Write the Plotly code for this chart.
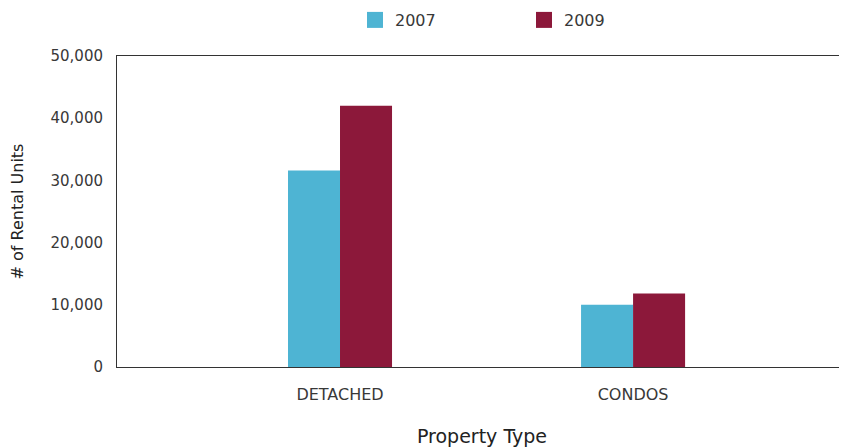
import plotly.graph_objects as go

categories = ["DETACHED", "CONDOS"]
series_names = ["2007", "2009"]
values_2007 = [31600, 10000]
values_2009 = [42000, 11800]
y_ticks = [0, 10000, 20000, 30000, 40000, 50000]

colors = {"2007": "#4EB4D3", "2009": "#8C183A"}
font_family = "DejaVu Sans, sans-serif"
text_color = "#383838"

fig = go.Figure()
for name, vals in zip(series_names, [values_2007, values_2009]):
    fig.add_trace(go.Bar(x=categories, y=vals, name=name, marker_color=colors[name],
                         marker_line_width=0, showlegend=False))
    fig.add_trace(go.Scatter(x=[None], y=[None], mode="markers", name=name,
                             marker=dict(symbol="square", size=20, color=colors[name])))

fig.update_layout(
    width=839, height=439,
    margin=dict(l=109, r=0, t=48, b=80, autoexpand=False),
    paper_bgcolor="white", plot_bgcolor="white",
    barmode="group", bargap=0.645, bargroupgap=0,
    font=dict(family=font_family, color=text_color, size=14),
    legend=dict(orientation="h", x=0.326, xanchor="left", y=1 - 12 / 439, yanchor="middle",
                yref="container", entrywidth=124, entrywidthmode="pixels",
                font=dict(size=16, color=text_color), itemsizing="trace"),
    xaxis=dict(type="category", range=[-0.761, 1.730], showline=True, linecolor="#333333",
               linewidth=1, mirror=True, showgrid=False, ticks="", ticklabelstandoff=13,
               automargin=False,
               tickfont=dict(size=16, color=text_color),
               title=dict(text="Property Type", standoff=28, font=dict(size=19, color="#222222"))),
    yaxis=dict(range=[0, 50000], tickvals=y_ticks, tickformat=",", showline=True,
               linecolor="#333333", linewidth=1, showgrid=False, zeroline=False, ticks="",
               automargin=False,
               ticklabelstandoff=10, tickfont=dict(size=15, color=text_color),
               title=dict(text="# of Rental Units", standoff=26, font=dict(size=16, color="#222222"))),
)

fig.write_html("out.html")
